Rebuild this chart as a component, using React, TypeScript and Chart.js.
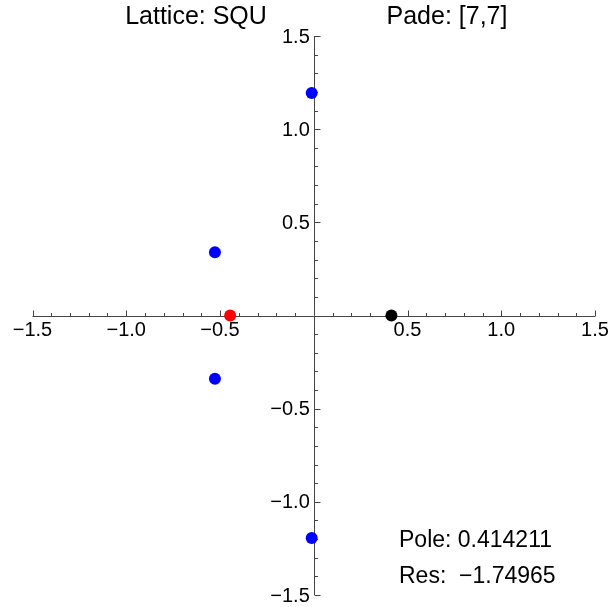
import React, { useEffect, useRef } from "react";
import { Chart, registerables } from "chart.js";

Chart.register(...registerables);

const blueX = [-0.011, -0.527, -0.527, -0.011];
const blueY = [1.194, 0.339, -0.339, -1.194];
const redX = [-0.446];
const redY = [0];
const blackX = [0.414211];
const blackY = [0];

const axisMin = -1.5;
const axisMax = 1.5;
const majorTicks = [-1.5, -1.0, -0.5, 0.5, 1.0, 1.5];
const majorLabels = ["\u22121.5", "\u22121.0", "\u22120.5", "0.5", "1.0", "1.5"];
const minorStep = 0.1;

const titleLeft = "Lattice: SQU";
const titleRight = "Pade: [7,7]";
const poleText = "Pole: 0.414211";
const resText = "Res:  \u22121.74965";

const FONT = "'Liberation Sans', Arial, sans-serif";

const axesPlugin = {
  id: "mmaAxes",
  beforeDatasetsDraw(chart: any) {
    const ctx = chart.ctx;
    const xs = chart.scales.x;
    const ys = chart.scales.y;
    const x0 = xs.getPixelForValue(0);
    const y0 = ys.getPixelForValue(0);
    const xl = xs.getPixelForValue(axisMin);
    const xr = xs.getPixelForValue(axisMax);
    const yt = ys.getPixelForValue(axisMax);
    const yb = ys.getPixelForValue(axisMin);
    ctx.save();
    ctx.strokeStyle = "#444";
    ctx.lineWidth = 1;
    ctx.beginPath();
    ctx.moveTo(xl, Math.round(y0) + 0.5);
    ctx.lineTo(xr, Math.round(y0) + 0.5);
    ctx.moveTo(Math.round(x0) + 0.5, yt);
    ctx.lineTo(Math.round(x0) + 0.5, yb);
    const n = Math.round((axisMax - axisMin) / minorStep);
    for (let i = 0; i <= n; i++) {
      const v = axisMin + i * minorStep;
      if (Math.abs(v) < 1e-9) continue;
      const major = Math.abs(v * 2 - Math.round(v * 2)) < 1e-6;
      const len = major ? 6 : 3.5;
      const px = Math.round(xs.getPixelForValue(v)) + 0.5;
      ctx.moveTo(px, Math.round(y0) + 0.5);
      ctx.lineTo(px, Math.round(y0) + 0.5 - len);
      const py = Math.round(ys.getPixelForValue(v)) + 0.5;
      ctx.moveTo(Math.round(x0) + 0.5, py);
      ctx.lineTo(Math.round(x0) + 0.5 + len, py);
    }
    ctx.stroke();
    ctx.fillStyle = "#000";
    ctx.font = `20px ${FONT}`;
    majorTicks.forEach((v, i) => {
      const px = xs.getPixelForValue(v);
      ctx.textAlign = "center";
      ctx.textBaseline = "top";
      ctx.fillText(majorLabels[i], px, y0 + 5);
      const py = ys.getPixelForValue(v);
      ctx.textAlign = "right";
      ctx.textBaseline = "middle";
      ctx.fillText(majorLabels[i], x0 - 4, py + 1);
    });
    ctx.restore();
  },
  afterDraw(chart: any) {
    const ctx = chart.ctx;
    ctx.save();
    ctx.fillStyle = "#000";
    ctx.font = `25px ${FONT}`;
    ctx.textAlign = "center";
    ctx.textBaseline = "middle";
    ctx.fillText(titleLeft, 196, 17);
    ctx.fillText(titleRight, 447, 17);
    ctx.font = `23px ${FONT}`;
    ctx.textAlign = "left";
    ctx.fillText(poleText, 399, 541);
    ctx.fillText(resText, 399, 577);
    ctx.restore();
  },
};

export default function App() {
  const ref = useRef<HTMLCanvasElement>(null);
  useEffect(() => {
    const toPts = (xs: number[], ys: number[]) => xs.map((x, i) => ({ x, y: ys[i] }));
    const chart = new Chart(ref.current!, {
      type: "scatter",
      data: {
        datasets: [
          { data: toPts(blueX, blueY), backgroundColor: "#0000ff", borderWidth: 0, pointRadius: 6 },
          { data: toPts(redX, redY), backgroundColor: "#ff0000", borderWidth: 0, pointRadius: 6 },
          { data: toPts(blackX, blackY), backgroundColor: "#000000", borderWidth: 0, pointRadius: 6 },
        ],
      },
      options: {
        responsive: false,
        animation: false,
        devicePixelRatio: 1,
        layout: { padding: { left: 32.5, right: 16, top: 36, bottom: 12 } },
        plugins: { legend: { display: false }, tooltip: { enabled: false }, title: { display: false } },
        scales: {
          x: { type: "linear", min: axisMin, max: axisMax, display: false },
          y: { type: "linear", min: axisMin, max: axisMax, display: false },
        },
      },
      plugins: [axesPlugin],
    });
    return () => chart.destroy();
  }, []);
  return (
    <div style={{ position: "fixed", left: 0, top: 0, width: 611, height: 607, background: "#fff" }}>
      <canvas ref={ref} width={611} height={607} style={{ display: "block" }} />
    </div>
  );
}
